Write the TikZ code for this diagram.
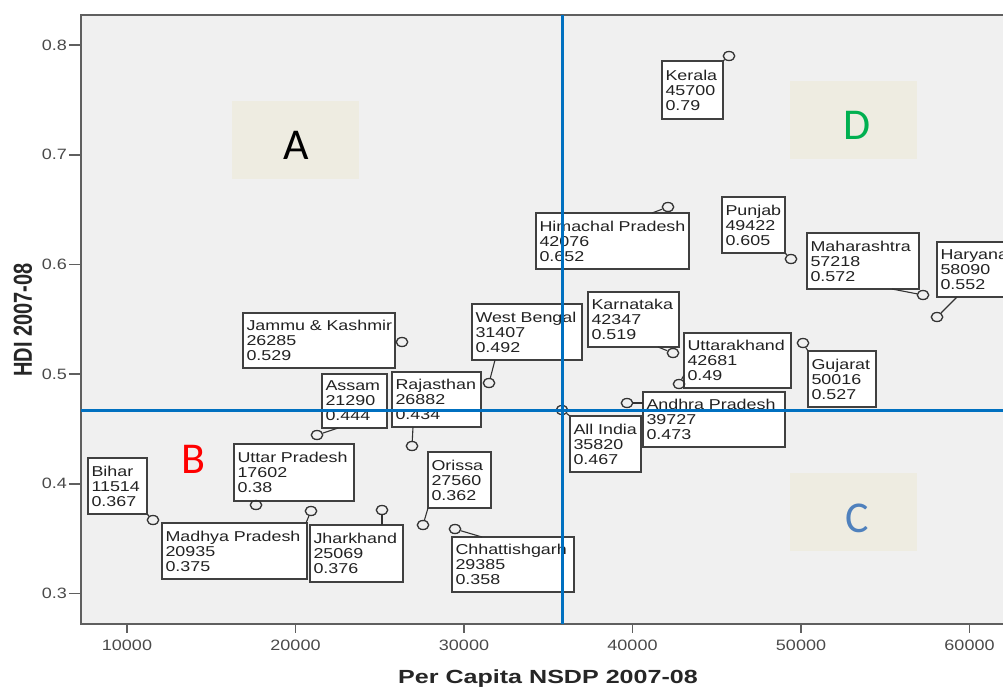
\documentclass[tikz,border=0pt]{standalone}
\usepackage{fontspec}
\usepackage{graphicx}
\setmainfont{Liberation Sans}
\newfontfamily\labf[FakeStretch=1.25]{Liberation Sans}
\newfontfamily\tickf[FakeStretch=1.2]{Liberation Sans}
\newfontfamily\xtitf[FakeStretch=1.32]{Liberation Sans}
\newfontfamily\letf{Carlito}
\usetikzlibrary{shapes.geometric}
\definecolor{plotbg}{HTML}{F0F0F0}
\definecolor{qfill}{HTML}{EEECE1}
\definecolor{qblue}{HTML}{0070C0}
\definecolor{framec}{HTML}{5F5F5F}
\definecolor{boxc}{HTML}{404040}
\definecolor{txtc}{HTML}{222222}
\definecolor{ptc}{HTML}{333333}
\definecolor{dgreen}{HTML}{00B050}
\definecolor{cblue}{HTML}{4F81BD}
\definecolor{tickc}{HTML}{4A4A4A}
\begin{document}
\begin{tikzpicture}[x=1pt,y=-1pt,
  lbl/.style={draw=boxc, fill=white, line width=1.2pt, inner xsep=3.5pt, inner ysep=0pt,
    outer sep=0pt, anchor=north west, align=left, text=txtc,
    font=\labf\fontsize{14.3}{15}\selectfont},
  pt/.style={ellipse, draw=ptc, line width=1.3pt, minimum width=11.5pt, minimum height=9pt, inner sep=0pt},
  leader/.style={draw=ptc, line width=1.1pt},
  qbox/.style={fill=qfill, draw=none, minimum width=127pt, minimum height=78pt, inner sep=0pt},
  qlet/.style={font=\letf\fontsize{44}{44}\selectfont, anchor=base, inner sep=0pt},
  blueline/.style={draw=qblue, line width=3pt},
  ticklbl/.style={font=\tickf\fontsize{15}{16}\selectfont, text=tickc, inner sep=0pt}
]
\useasboundingbox (0,0) rectangle (1003,689);
\clip (0,0) rectangle (1003,689);
\fill[white] (0,0) rectangle (1003,689);
% plot area
\fill[plotbg] (81,15) rectangle (1020,624);
% quadrant boxes
\node[qbox] (qa) at (295.5,140) {};
\node[qlet, text=black] (la) at (296,159) {A};
\node[qbox] (qd) at (853.5,120) {};
\node[qlet, text=dgreen] (ld) at (857,139) {D};
\node[qbox] (qc) at (853.5,512) {};
\node[qlet, text=cblue] (lc) at (857,532) {C};
\node[qlet, text=red] (lb) at (193,473) {B};
% label boxes
\node[lbl, text width=54pt, minimum height=58pt] (kerala) at (662,61) {Kerala\\45700\\0.79};
\node[lbl, text width=146pt, minimum height=56pt] (himachal) at (536,213) {\mbox{Himachal Pradesh}\\42076\\0.652};
\node[lbl, text width=56pt, minimum height=56pt] (punjab) at (722,197) {Punjab\\49422\\0.605};
\node[lbl, text width=105pt, minimum height=56pt] (maharashtra) at (807,233) {\mbox{Maharashtra}\\57218\\0.572};
\node[lbl, text width=73pt, minimum height=55pt] (haryana) at (937,242) {Haryana\\58090\\0.552};
\node[lbl, text width=84pt, minimum height=55pt] (karnataka) at (588,292) {\mbox{Karnataka}\\42347\\0.519};
\node[lbl, text width=100pt, minimum height=55pt] (uttarakhand) at (684,333) {\mbox{Uttarakhand}\\42681\\0.49};
\node[lbl, text width=61pt, minimum height=56pt] (gujarat) at (808,351) {Gujarat\\50016\\0.527};
\node[lbl, text width=135pt, minimum height=55pt] (andhra) at (643,392) {\mbox{Andhra Pradesh}\\39727\\0.473};
\node[lbl, text width=64pt, minimum height=56pt] (allindia) at (570,416) {\mbox{All India}\\35820\\0.467};
\node[lbl, text width=103pt, minimum height=56pt] (westbengal) at (472,304) {\mbox{West Bengal}\\31407\\0.492};
\node[lbl, text width=145pt, minimum height=55pt] (jk) at (243,313) {\mbox{Jammu \& Kashmir}\\26285\\0.529};
\node[lbl, text width=58pt, minimum height=54pt] (assam) at (322,374) {Assam\\21290\\0.444};
\node[lbl, text width=82pt, minimum height=55pt] (rajasthan) at (392,372) {\mbox{Rajasthan}\\26882\\0.434};
\node[lbl, text width=113pt, minimum height=57pt] (up) at (234,444) {\mbox{Uttar Pradesh}\\17602\\0.38};
\node[lbl, text width=138pt, minimum height=56pt] (mp) at (162,523) {\mbox{Madhya Pradesh}\\20935\\0.375};
\node[lbl, text width=86pt, minimum height=57pt] (jharkhand) at (310,525) {\mbox{Jharkhand}\\25069\\0.376};
\node[lbl, text width=56pt, minimum height=56pt] (orissa) at (428,452) {Orissa\\27560\\0.362};
\node[lbl, text width=115pt, minimum height=55pt] (chhattisgarh) at (452,537) {\mbox{Chhattishgarh}\\29385\\0.358};
\node[lbl, text width=52pt, minimum height=56pt] (bihar) at (88,458) {Bihar\\11514\\0.367};
% data points
\node[pt] (p-kerala) at (729,56) {};
\node[pt] (p-himachal) at (668,207) {};
\node[pt] (p-punjab) at (791,259) {};
\node[pt] (p-maharashtra) at (923,295) {};
\node[pt] (p-haryana) at (937,317) {};
\node[pt] (p-karnataka) at (673,353) {};
\node[pt] (p-uttarakhand) at (679,384) {};
\node[pt] (p-gujarat) at (803,343) {};
\node[pt] (p-andhra) at (627,403) {};
\node[pt] (p-allindia) at (562,410) {};
\node[pt] (p-westbengal) at (489,383) {};
\node[pt] (p-jk) at (402,342) {};
\node[pt] (p-assam) at (317,435) {};
\node[pt] (p-rajasthan) at (412,446) {};
\node[pt] (p-up) at (256,505) {};
\node[pt] (p-mp) at (311,511) {};
\node[pt] (p-jharkhand) at (382,510) {};
\node[pt] (p-orissa) at (423,525) {};
\node[pt] (p-chhattisgarh) at (455,529) {};
\node[pt] (p-bihar) at (153,520) {};
% leaders
\draw[leader] (kerala.north east) -- (p-kerala);
\draw[leader] ([xshift=116pt]himachal.north west) -- (p-himachal);
\draw[leader] (punjab.south east) -- (p-punjab);
\draw[leader] ([xshift=85pt]maharashtra.south west) -- (p-maharashtra);
\draw[leader] ([xshift=20pt]haryana.south west) -- (p-haryana);
\draw[leader] ([xshift=70pt]karnataka.south west) -- (p-karnataka);
\draw[leader] ([yshift=13pt]uttarakhand.south west) -- (p-uttarakhand);
\draw[leader] (gujarat.north west) -- (p-gujarat);
\draw[leader] ([yshift=-11pt]andhra.north west) -- (p-andhra);
\draw[leader] (allindia.north west) -- (p-allindia);
\draw[leader] ([xshift=23pt]westbengal.south west) -- (p-westbengal);
\draw[leader] ([yshift=-29pt]jk.north east) -- (p-jk);
\draw[leader] ([xshift=16pt]assam.south west) -- (p-assam);
\draw[leader] ([xshift=21pt]rajasthan.south west) -- (p-rajasthan);
\draw[leader] ([xshift=22pt]up.south west) -- (p-up);
\draw[leader] ([xshift=-1pt]mp.north east) -- (p-mp);
\draw[leader] ([xshift=72pt]jharkhand.north west) -- (p-jharkhand);
\draw[leader] (orissa.south west) -- (p-orissa);
\draw[leader] ([xshift=30pt]chhattisgarh.north west) -- (p-chhattisgarh);
\draw[leader] (bihar.south east) -- (p-bihar);
% frame
\draw[framec, line width=2pt] (1020,15) -- (81,15) -- (81,624) -- (1020,624);
% y ticks
\foreach \v/\yy in {0.8/45,0.7/154.7,0.6/264.4,0.5/374.1,0.4/483.8,0.3/593.5}{
  \draw[framec, line width=1.6pt] (69,\yy) -- (81,\yy);
  \node[ticklbl, anchor=east] (yt\v) at (67,\yy) {\v};
}
% x ticks
\foreach \v/\xx in {10000/127,20000/295.5,30000/464,40000/632.5,50000/801,60000/969.5}{
  \draw[framec, line width=1.6pt] (\xx,624) -- (\xx,633);
  \node[ticklbl, anchor=base] (xt\v) at (\xx,650) {\v};
}
% axis titles
\node[font=\xtitf\bfseries\fontsize{19}{22}\selectfont, text=black!85, anchor=base, inner sep=0pt] (xtitle) at (548,683) {Per Capita NSDP 2007-08};
\node[font=\bfseries\fontsize{20}{24}\selectfont, text=black!85, rotate=90, inner sep=0pt] (ytitle) at (23,320) {\scalebox{1}[1.3]{HDI 2007-08}};
% reference lines
\coordinate (vt) at (562,15);
\coordinate (vb) at (562,624);
\coordinate (hl) at (81,410);
\coordinate (hr) at (1020,410);
\draw[blueline] (vt) -- (vb);
\draw[blueline] (hl) -- (hr);
\end{tikzpicture}
\end{document}
